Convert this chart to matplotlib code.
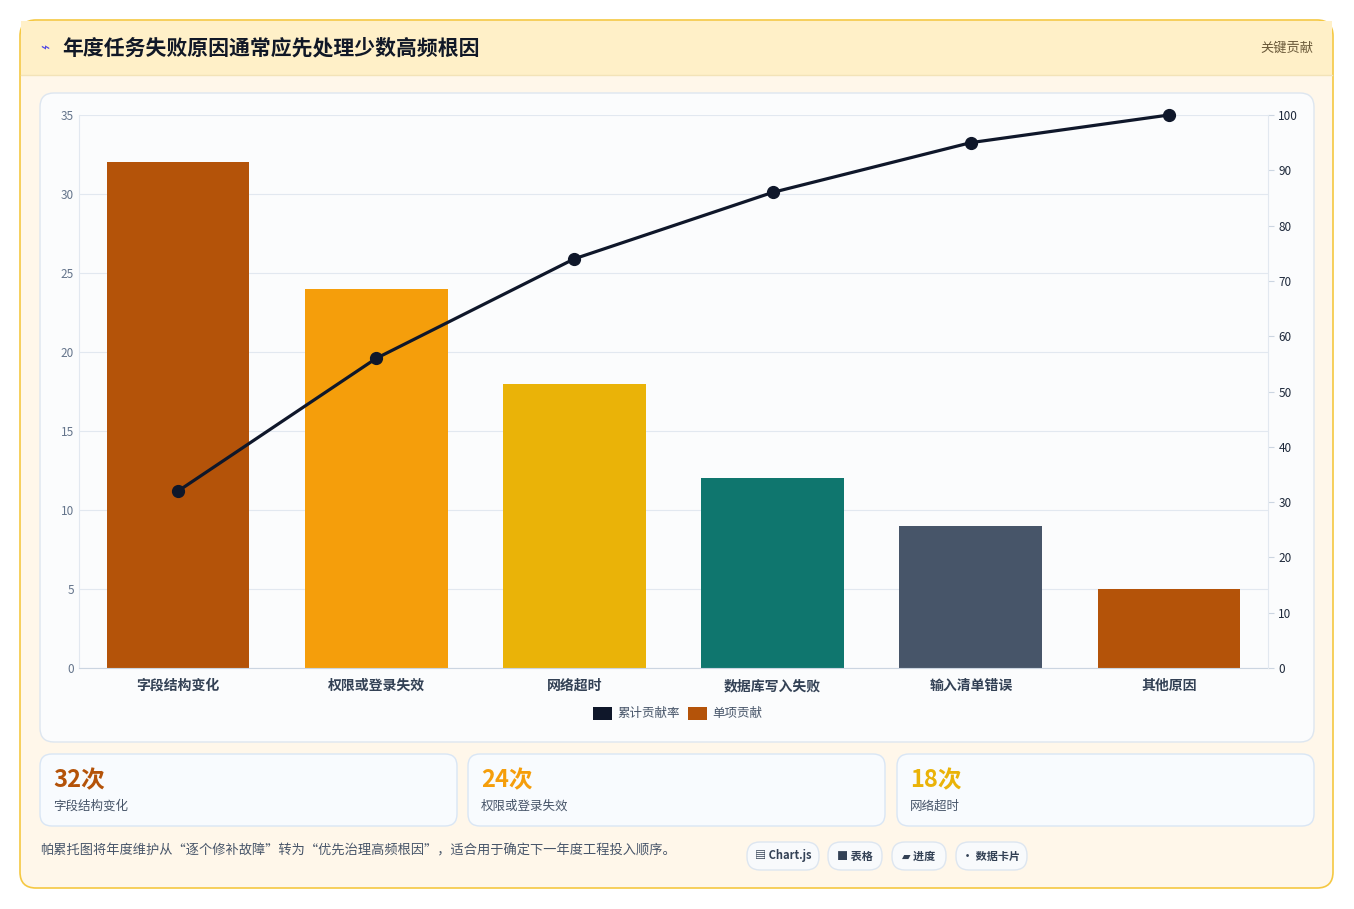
import matplotlib
matplotlib.use("Agg")
import matplotlib.pyplot as plt
from matplotlib.patches import FancyBboxPatch, Rectangle
import numpy as np

plt.rcParams['font.family'] = ['Noto Sans CJK SC', 'DejaVu Sans']

categories = ["字段结构变化", "权限或登录失效", "网络超时", "数据库写入失败", "输入清单错误", "其他原因"]
counts = [32, 24, 18, 12, 9, 5]
cumulative = [32, 56, 74, 86, 95, 100]
bar_colors = ["#b45309", "#f59e0b", "#eab308", "#0f766e", "#475569", "#b45309"]
card_values = ["32次", "24次", "18次"]
card_labels = ["字段结构变化", "权限或登录失效", "网络超时"]
card_colors = ["#b45309", "#f59e0b", "#eab308"]
title = "年度任务失败原因通常应先处理少数高频根因"
badge = "关键贡献"
footer = "帕累托图将年度维护从“逐个修补故障”转为“优先治理高频根因”，适合用于确定下一年度工程投入顺序。"
chips = ["▤ Chart.js", "■ 表格", "▰ 进度", "• 数据卡片"]

W, H = 1354, 909
fig = plt.figure(figsize=(W/100, H/100), dpi=100)
fig.patch.set_facecolor("white")

def box(x, y, w, h, fc, ec, r=12, lw=1, z=0):
    p = FancyBboxPatch((x/W, 1-(y+h)/H), w/W, h/H,
                       boxstyle=f"round,pad=0,rounding_size={r/W}",
                       transform=fig.transFigure, fc=fc, ec=ec, lw=lw, zorder=z,
                       mutation_aspect=W/H)
    fig.add_artist(p)

# outer card
box(20, 20, 1313, 868, "#fff7ea", "#f5c842", r=16, lw=1.2)
fig.add_artist(Rectangle((21/W, 1-75/H), 1311/W, 54/H, transform=fig.transFigure,
                         fc="#fff0c8", ec="none", zorder=0.5))
fig.add_artist(plt.Line2D([21/W, 1332/W], [1-75/H]*2, transform=fig.transFigure, color="#f3e3b8", lw=1))
fig.text(40/W, 1-48/H, "⌁", color="#4f46e5", fontsize=11, va="center", family=["DejaVu Sans"])
fig.text(62/W, 1-48/H, title, fontsize=15, fontweight="bold", color="#111827", va="center")
fig.text(1313/W, 1-48/H, badge, fontsize=9.5, color="#6b5a3a", va="center", ha="right")

# chart panel
box(40, 93, 1274, 649, "#fbfcfd", "#dde6f0", r=14, lw=1)

ax = fig.add_axes([79/W, 1-668/H, 1189/W, 553/H])
ax.set_facecolor("none")
x = np.arange(len(categories))
ax.bar(x, counts, width=0.72, color=bar_colors, zorder=2, label="单项贡献")
ax.set_ylim(0, 35)
ax.set_xlim(-0.5, len(categories)-0.5)
ax.set_yticks(range(0, 36, 5))
ax.grid(axis="y", color="#e2e8f0", lw=0.8, zorder=0)
ax.set_xticks(x)
ax.set_xticklabels(categories, fontsize=10, color="#334155", fontweight="bold")
ax.tick_params(axis="y", labelsize=8.5, colors="#64748b", length=0)
ax.tick_params(axis="x", length=0, pad=8)
for s in ["top", "right"]:
    ax.spines[s].set_visible(False)
ax.spines["left"].set_color("#e2e8f0")
ax.spines["bottom"].set_color("#cbd5e1")

ax2 = ax.twinx()
ax2.plot(x, cumulative, color="#0f172a", lw=2.3, marker="o", ms=8.5, zorder=3, label="累计贡献率", clip_on=False)
ax2.set_ylim(0, 100)
ax2.set_yticks(range(0, 101, 10))
ax2.tick_params(axis="y", labelsize=8.5, colors="#1e293b", length=4, color="#cbd5e1")
for s in ["top", "left", "bottom"]:
    ax2.spines[s].set_visible(False)
ax2.spines["right"].set_color("#e2e8f0")

# legend
fig.add_artist(Rectangle((593/W, 1-720/H), 19/W, 13/H, transform=fig.transFigure, fc="#0f172a", ec="none"))
fig.text(617/W, 1-713/H, "累计贡献率", fontsize=9, color="#475569", va="center")
fig.add_artist(Rectangle((688/W, 1-720/H), 19/W, 13/H, transform=fig.transFigure, fc="#b45309", ec="none"))
fig.text(712/W, 1-713/H, "单项贡献", fontsize=9, color="#475569", va="center")

# cards
cx = [40, 468, 897]
for i in range(3):
    box(cx[i], 754, 417, 72, "#f8fbfe", "#d9e6f5", r=12)
    fig.text((cx[i]+13)/W, 1-780/H, card_values[i], fontsize=17, fontweight="bold", color=card_colors[i], va="center")
    fig.text((cx[i]+13)/W, 1-806/H, card_labels[i], fontsize=9, color="#475569", va="center")

fig.text(40/W, 1-851/H, footer, fontsize=9.5, color="#475569", va="center")
chip_x = [747, 828, 892, 956]
chip_w = [72, 54, 54, 71]
for cxx, cw, t in zip(chip_x, chip_w, chips):
    box(cxx, 842, cw, 28, "#f8fafc", "#dde6f0", r=13)
    fig.text((cxx+cw/2)/W, 1-856/H, t, fontsize=8, fontweight="bold", color="#334155",
             va="center", ha="center", family=["Noto Sans CJK SC", "DejaVu Sans"])

fig.savefig("out.png", dpi=100)
